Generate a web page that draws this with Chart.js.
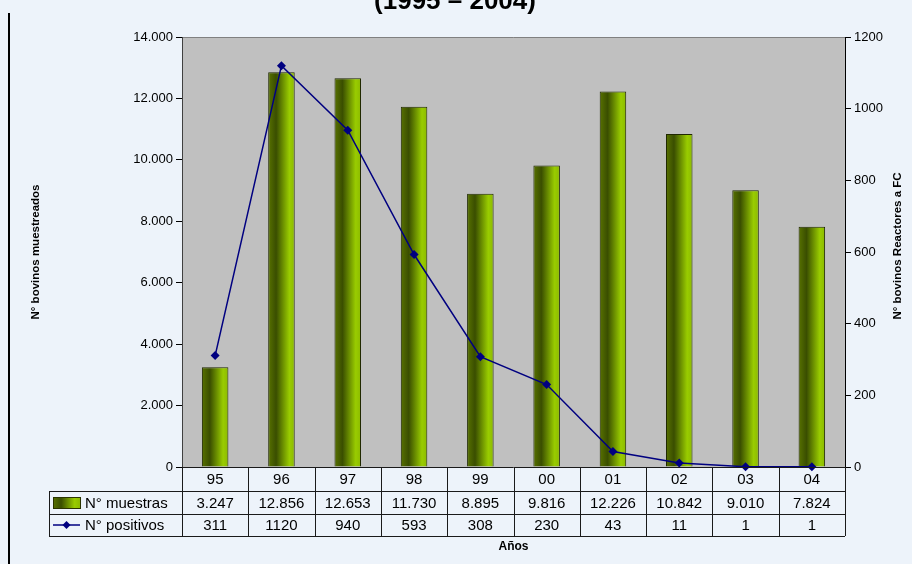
<!DOCTYPE html>
<html>
<head>
<meta charset="utf-8">
<script src="https://cdn.jsdelivr.net/npm/chart.js@4.4.0/dist/chart.umd.min.js"></script>
<style>
  html, body { margin: 0; padding: 0; background: #edf3fa; }
  #wrap { width: 912px; height: 564px; }
</style>
</head>
<body>
<div id="wrap"><canvas id="chart" width="912" height="564"></canvas></div>
<script>
// data
var years = ['95', '96', '97', '98', '99', '00', '01', '02', '03', '04'];
var muestras = [3247, 12856, 12653, 11730, 8895, 9816, 12226, 10842, 9010, 7824];
var positivos = [311, 1120, 940, 593, 308, 230, 43, 11, 1, 1];
var leftTicks = [0, 2000, 4000, 6000, 8000, 10000, 12000, 14000];
var rightTicks = [0, 200, 400, 600, 800, 1000, 1200];

var FONT = "'Liberation Sans', Arial, sans-serif";

function miles(v) {
    return v.toString().replace(/\B(?=(\d{3})+(?!\d))/g, '.');
}

function barGradient(context) {
    var chart = context.chart;
    var xs = chart.scales.x;
    if (!chart.chartArea || !xs) return '#7fa800';
    var cx = xs.getPixelForValue(context.dataIndex);
    var w = (xs.right - xs.left) / years.length * 0.4;
    var g = chart.ctx.createLinearGradient(cx - w / 2, 0, cx + w / 2, 0);
    g.addColorStop(0, '#587200');
    g.addColorStop(0.3, '#3a4e00');
    g.addColorStop(0.8, '#99cc00');
    g.addColorStop(1, '#8cba00');
    return g;
}

var backPlugin = {
    id: 'back',
    beforeDraw: function (chart) {
        var c = chart.ctx, a = chart.chartArea;
        c.save();
        c.fillStyle = '#edf3fa';
        c.fillRect(0, 0, chart.width, chart.height);
        c.fillStyle = '#c0c0c0';
        c.fillRect(a.left, a.top, a.right - a.left, a.bottom - a.top);
        c.strokeStyle = '#808080';
        c.lineWidth = 1;
        c.beginPath();
        c.moveTo(a.left, a.top + 0.5);
        c.lineTo(a.right, a.top + 0.5);
        c.stroke();
        c.restore();
    }
};

var tablePlugin = {
    id: 'table',
    afterDraw: function (chart) {
        var c = chart.ctx, a = chart.chartArea, xs = chart.scales.x;
        var n = years.length;
        var colW = (xs.right - xs.left) / n;
        var r0 = a.bottom, r1 = 491, r2 = 514, r3 = 536;
        var legL = 49;
        c.save();

        // title (cut at top)
        c.fillStyle = '#000';
        c.font = 'bold 26px ' + FONT;
        c.textAlign = 'center';
        c.textBaseline = 'alphabetic';
        c.fillText('(1995 \u2013 2004)', 455, 9);

        // left frame line
        c.fillStyle = '#000';
        c.fillRect(8, 13, 2, chart.height - 13);

        // axis titles
        c.font = 'bold 11.5px ' + FONT;
        c.save();
        c.translate(36, (a.top + a.bottom) / 2);
        c.rotate(-Math.PI / 2);
        c.textBaseline = 'middle';
        c.fillText('N\u00b0 bovinos muestreados', 0, 0);
        c.restore();
        c.save();
        c.translate(898, (a.top + a.bottom) / 2 - 6);
        c.rotate(-Math.PI / 2);
        c.textBaseline = 'middle';
        c.fillText('N\u00b0 bovinos Reactores a FC', 0, 0);
        c.restore();

        // grid of the data table
        c.strokeStyle = '#1a1a1a';
        c.lineWidth = 1;
        c.beginPath();
        for (var i = 0; i <= n; i++) {
            var x = Math.round(xs.left + i * colW) + 0.5;
            c.moveTo(x, r0);
            c.lineTo(x, r3);
        }
        c.moveTo(a.left, r0 + 0.5); c.lineTo(a.right, r0 + 0.5);
        [r1, r2, r3].forEach(function (y) {
            c.moveTo(legL, y + 0.5);
            c.lineTo(a.right, y + 0.5);
        });
        c.moveTo(legL + 0.5, r1); c.lineTo(legL + 0.5, r3);
        c.stroke();

        // right axis line continues a bit below
        c.beginPath();
        c.moveTo(Math.round(a.right) + 0.5, r0);
        c.lineTo(Math.round(a.right) + 0.5, r0 + 8);
        c.stroke();

        // cell texts
        c.font = '15px ' + FONT;
        c.textAlign = 'center';
        c.textBaseline = 'middle';
        for (var j = 0; j < n; j++) {
            var cx = xs.getPixelForValue(j);
            c.fillText(years[j], cx, (r0 + r1) / 2 + 1);
            c.fillText(miles(muestras[j]), cx, (r1 + r2) / 2 + 1);
            c.fillText(String(positivos[j]), cx, (r2 + r3) / 2 + 1);
        }

        // legend keys
        var g = c.createLinearGradient(53, 0, 80, 0);
        g.addColorStop(0, '#587200');
        g.addColorStop(0.3, '#3a4e00');
        g.addColorStop(0.8, '#99cc00');
        g.addColorStop(1, '#8cba00');
        c.fillStyle = g;
        c.fillRect(53, 497, 27, 11);
        c.strokeStyle = '#2a3300';
        c.strokeRect(53.5, 497.5, 27, 11);

        c.strokeStyle = '#000080';
        c.lineWidth = 1.5;
        c.beginPath();
        c.moveTo(53, 525); c.lineTo(80, 525);
        c.stroke();
        c.fillStyle = '#000080';
        c.beginPath();
        c.moveTo(66.5, 521); c.lineTo(70.5, 525); c.lineTo(66.5, 529); c.lineTo(62.5, 525);
        c.closePath();
        c.fill();

        c.fillStyle = '#000';
        c.textAlign = 'left';
        c.fillText('N\u00b0 muestras', 85, (r1 + r2) / 2 + 1);
        c.fillText('N\u00b0 positivos', 85, (r2 + r3) / 2 + 1);

        // x axis title
        c.font = 'bold 12px ' + FONT;
        c.textAlign = 'center';
        c.fillText('A\u00f1os', (a.left + a.right) / 2, 547);

        c.restore();
    }
};

Chart.defaults.color = '#000';
Chart.defaults.font.family = FONT;

new Chart(document.getElementById('chart').getContext('2d'), {
    type: 'bar',
    data: {
        labels: years,
        datasets: [{
            type: 'line',
            label: 'N\u00b0 positivos',
            data: positivos,
            yAxisID: 'y1',
            borderColor: '#000080',
            borderWidth: 1.5,
            backgroundColor: '#000080',
            pointStyle: 'rectRot',
            pointRadius: 4.5,
            pointBorderWidth: 0,
            tension: 0,
            clip: false,
            order: 0
        }, {
            type: 'bar',
            label: 'N\u00b0 muestras',
            data: muestras,
            yAxisID: 'y',
            backgroundColor: barGradient,
            borderColor: '#1f2800',
            borderWidth: 1,
            barPercentage: 0.4,
            categoryPercentage: 1,
            order: 1
        }]
    },
    options: {
        responsive: false,
        animation: false,
        layout: { padding: { top: 37, left: 0, right: 0, bottom: 0 } },
        plugins: {
            legend: { display: false },
            tooltip: { enabled: false }
        },
        scales: {
            x: {
                grid: { display: false },
                border: { display: false },
                ticks: { display: false },
                afterFit: function (s) { s.height = 97; }
            },
            y: {
                position: 'left',
                min: 0,
                max: 14000,
                afterBuildTicks: function (s) {
                    s.ticks = leftTicks.map(function (v) { return { value: v }; });
                },
                ticks: {
                    font: { size: 13 },
                    padding: 3,
                    callback: function (v) { return miles(v); }
                },
                grid: { drawOnChartArea: false, drawTicks: true, tickLength: 6, color: '#000' },
                border: { display: true, color: '#404040', width: 1 },
                afterFit: function (s) { s.width = 182; }
            },
            y1: {
                position: 'right',
                min: 0,
                max: 1200,
                afterBuildTicks: function (s) {
                    s.ticks = rightTicks.map(function (v) { return { value: v }; });
                },
                ticks: {
                    font: { size: 13 },
                    padding: 3,
                    callback: function (v) { return String(v); }
                },
                grid: { drawOnChartArea: false, drawTicks: true, tickLength: 6, color: '#000' },
                border: { display: true, color: '#000', width: 1 },
                afterFit: function (s) { s.width = 67; }
            }
        }
    },
    plugins: [backPlugin, tablePlugin]
});
</script>
</body>
</html>
